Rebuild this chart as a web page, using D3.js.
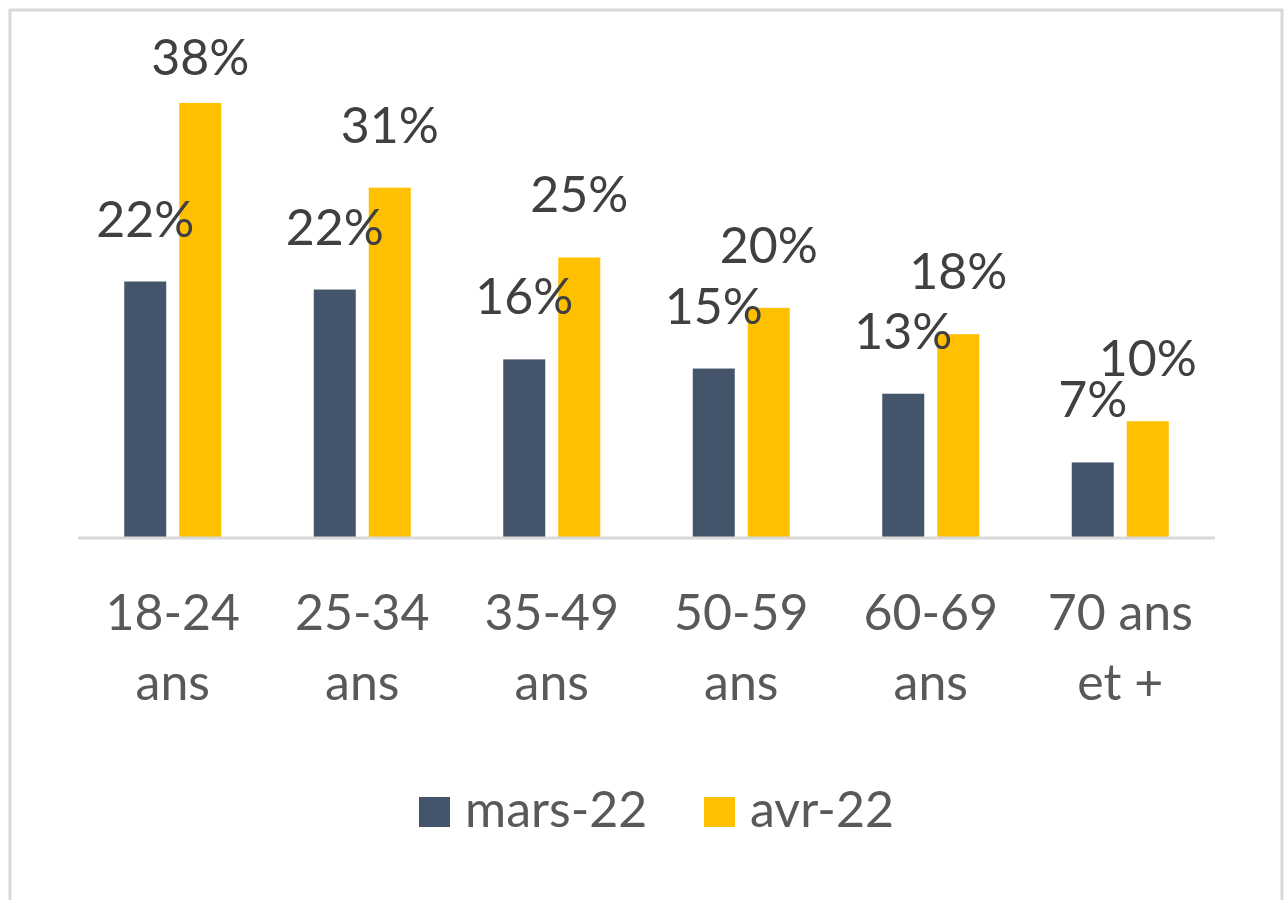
<html>
<head>
<meta charset="utf-8">
<title>Tranches d'age</title>
<style>
  body { margin: 0; background: #fff; }
  text { font-family: Lato, "Open Sans", sans-serif; }
</style>
</head>
<body>
<svg id="container" width="1288" height="900"></svg>
<script src="https://d3js.org/d3.v7.min.js"></script>
<script>
// data (percent); "\n" marks the line break of the axis label
let categories = ["18-24\nans", "25-34\nans", "35-49\nans", "50-59\nans", "60-69\nans", "70 ans\net +"]
let seriesNames = ["mars-22", "avr-22"]
let mars22 = [22.4, 21.7, 15.6, 14.8, 12.6, 6.6]
let avr22 = [38.0, 30.6, 24.5, 20.1, 17.8, 10.2]
let seriesColors = ["#44546A", "#FFC000"]

let svg = d3.select("#container")
let baseY = 538
let fontSize = 50

// frame around the chart
svg.append("rect")
    .attr("x", 10).attr("y", 10)
    .attr("width", 1272).attr("height", 910)
    .attr("fill", "none")
    .attr("stroke", "#d9d9d9")
    .attr("stroke-width", 3)

let x = d3.scaleBand()
    .domain(categories)
    .range([78, 1215])

let xs = d3.scaleBand()
    .domain(seriesNames)
    .range([-48.5, 48.5])
    .paddingInner(13 / 55)

let y = d3.scaleLinear()
    .domain([0, 40])
    .range([baseY, 80])

let rows = []
categories.forEach((c, i) => {
    rows.push({cat: c, s: seriesNames[0], v: mars22[i]})
    rows.push({cat: c, s: seriesNames[1], v: avr22[i]})
})
let color = d3.scaleOrdinal().domain(seriesNames).range(seriesColors)

let bars = svg.append("g")
bars.selectAll("rect")
    .data(rows)
    .enter()
    .append("rect")
    .attr("x", d => x(d.cat) + x.bandwidth() / 2 + xs(d.s))
    .attr("y", d => y(d.v))
    .attr("width", xs.bandwidth())
    .attr("height", d => baseY - y(d.v))
    .attr("fill", d => color(d.s))

// baseline
svg.append("line")
    .attr("x1", x.range()[0]).attr("x2", x.range()[1])
    .attr("y1", baseY).attr("y2", baseY)
    .attr("stroke", "#d9d9d9")
    .attr("stroke-width", 3)

// data labels (clamped to top of plot area)
svg.append("g").selectAll("text")
    .data(rows)
    .enter()
    .append("text")
    .attr("x", d => x(d.cat) + x.bandwidth() / 2 + xs(d.s) + xs.bandwidth() / 2)
    .attr("y", d => Math.max(y(d.v) - 45, 75))
    .attr("text-anchor", "middle")
    .attr("font-size", fontSize)
    .attr("fill", "#404040")
    .text(d => Math.round(d.v) + "%")

// category labels on two lines
let xl = svg.append("g").selectAll("text")
    .data(categories)
    .enter()
    .append("text")
    .attr("text-anchor", "middle")
    .attr("font-size", fontSize)
    .attr("fill", "#595959")
xl.each(function(c) {
    let t = d3.select(this)
    c.split("\n").forEach((line, j) => {
        t.append("tspan")
            .attr("x", x(c) + x.bandwidth() / 2)
            .attr("y", 630 + j * 70)
            .text(line)
    })
})

// legend
let legend = svg.append("g")
let legX = [419, 704]
seriesNames.forEach((s, i) => {
    legend.append("rect")
        .attr("x", legX[i]).attr("y", 797)
        .attr("width", 31).attr("height", 30)
        .attr("fill", color(s))
    legend.append("text")
        .attr("x", legX[i] + 46).attr("y", 827)
        .attr("font-size", fontSize)
        .attr("fill", "#595959")
        .text(s)
})
</script>
</body>
</html>
